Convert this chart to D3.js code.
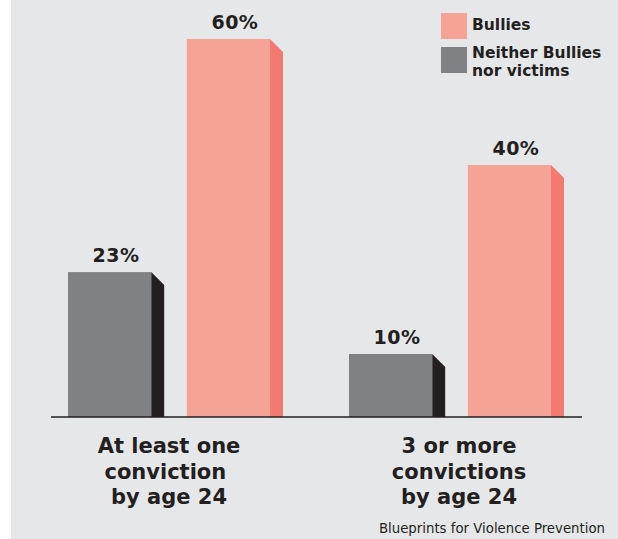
<!DOCTYPE html>
<html>
<head>
<meta charset="utf-8">
<script src="https://cdn.jsdelivr.net/npm/d3@7"></script>
<style>
  body { margin: 0; background: #fff; }
  svg { display: block; }
  text { font-family: "DejaVu Sans", Verdana, sans-serif; fill: #231f20; }
</style>
</head>
<body>
<script>
// chart data
const categories = ['At least one|conviction |by age 24', '3 or more|convictions|by age 24'];
const series = ['Neither Bullies nor victims', 'Bullies'];
const neitherValues = [23, 10];
const bulliesValues = [60, 40];
const legendLabels = ['Bullies', 'Neither Bullies|nor victims'];
const source = 'Blueprints for Violence Prevention';

const W = 618, H = 539;
const base = 417;
const depth = 13;

const colors = {
  front: {'Bullies': '#f5a397', 'Neither Bullies nor victims': '#808184'},
  side: {'Bullies': '#f27a70', 'Neither Bullies nor victims': '#231f20'}
};

const svg = d3.select('body').append('svg')
  .attr('width', W)
  .attr('height', H);

svg.append('rect')
  .attr('x', 11).attr('y', 0)
  .attr('width', W - 11).attr('height', H)
  .attr('fill', '#e6e7e9');

const x0 = d3.scaleBand().domain(categories).range([34, 596]);
const x1 = d3.scaleBand().domain(series).range([34, 236]).paddingInner(0.3);
const y = d3.scaleLinear().domain([0, 60]).range([base, 39]);

const rows = categories.map((c, i) => ({
  cat: c,
  bars: [
    {s: series[0], v: neitherValues[i]},
    {s: series[1], v: bulliesValues[i]}
  ]
}));

const groups = svg.selectAll('.group')
  .data(rows)
  .enter().append('g')
  .attr('class', 'group')
  .attr('transform', d => 'translate(' + x0(d.cat) + ',0)');

const bar = groups.selectAll('.bar')
  .data(d => d.bars)
  .enter().append('g')
  .attr('class', 'bar');

// side face
bar.append('path')
  .attr('d', d => {
    let x = x1(d.s) + x1.bandwidth();
    let t = y(d.v);
    return 'M' + x + ',' + t + 'L' + (x + depth) + ',' + (t + depth) +
      'L' + (x + depth) + ',' + base + 'L' + x + ',' + base + 'Z';
  })
  .attr('fill', d => colors.side[d.s]);

// front face
bar.append('rect')
  .attr('x', d => x1(d.s))
  .attr('y', d => y(d.v))
  .attr('width', x1.bandwidth())
  .attr('height', d => base - y(d.v))
  .attr('fill', d => colors.front[d.s]);

bar.append('text')
  .attr('x', d => x1(d.s) + (x1.bandwidth() + depth) / 2)
  .attr('y', d => y(d.v) - 10)
  .attr('text-anchor', 'middle')
  .style('font-weight', 'bold')
  .style('font-size', '19px')
  .style('letter-spacing', '0.5px')
  .text(d => d.v + '%');

// baseline
svg.append('line')
  .attr('x1', 51).attr('x2', 582)
  .attr('y1', base).attr('y2', base)
  .attr('stroke', '#231f20')
  .attr('stroke-width', 1.5);

// category labels
const catLabel = svg.selectAll('.cat')
  .data(categories)
  .enter().append('text')
  .attr('class', 'cat')
  .attr('text-anchor', 'middle')
  .style('font-weight', 'bold')
  .style('font-size', '21px')
  .attr('transform', (d, i) => 'translate(' + (x0(d) + 135 + i * 9) + ',453)');

catLabel.selectAll('tspan')
  .data(d => d.split('|'))
  .enter().append('tspan')
  .attr('x', 0)
  .attr('y', (d, i) => i * 25.5)
  .attr('xml:space', 'preserve')
  .style('white-space', 'pre')
  .text(d => d);

// legend
const legend = svg.selectAll('.legend')
  .data(legendLabels)
  .enter().append('g')
  .attr('class', 'legend')
  .attr('transform', (d, i) => 'translate(441,' + (13 + i * 34) + ')');

legend.append('rect')
  .attr('width', 26)
  .attr('height', 26)
  .attr('fill', (d, i) => colors.front[i === 0 ? series[1] : series[0]]);

legend.append('text')
  .style('font-weight', 'bold')
  .style('font-size', '15.5px')
  .selectAll('tspan')
  .data(d => {
    let lines = d.split('|');
    return lines.map((t, i) => ({t: t, i: i, n: lines.length}));
  })
  .enter().append('tspan')
  .attr('x', 31)
  .attr('y', d => 17 - (d.n - 1) * 6 + d.i * 18)
  .text(d => d.t);

svg.append('text')
  .attr('x', 605)
  .attr('y', 533)
  .attr('text-anchor', 'end')
  .style('font-size', '13.3px')
  .text(source);
</script>
</body>
</html>
